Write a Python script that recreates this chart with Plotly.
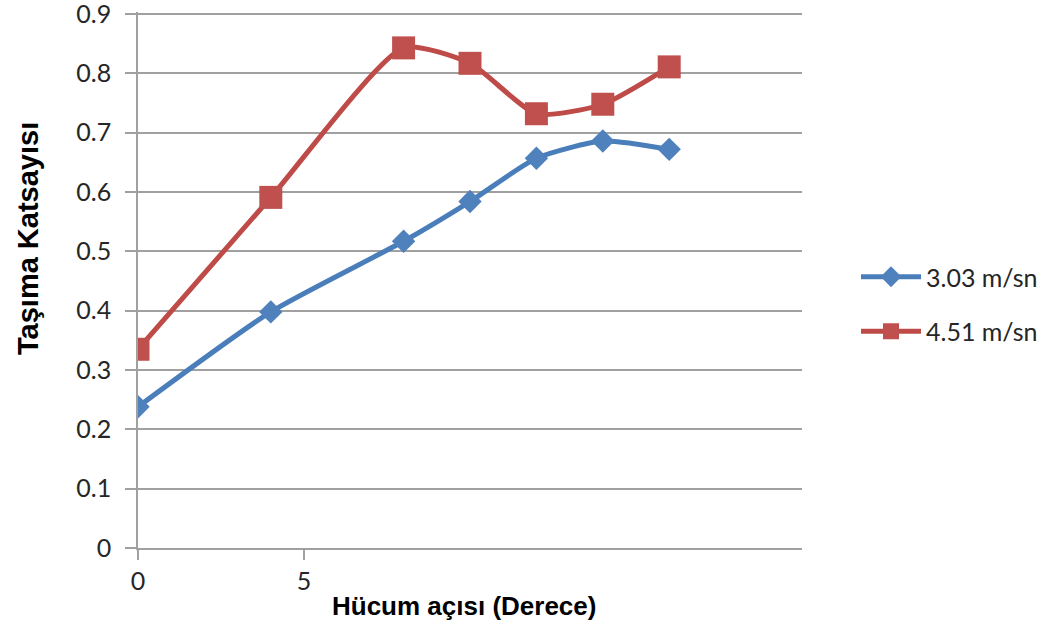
import plotly.graph_objects as go

# Angle of attack (degrees) and lift coefficient for two flow speeds
angles = [0, 4, 8, 10, 12, 14, 16]
cl_303 = [0.238, 0.398, 0.517, 0.584, 0.657, 0.686, 0.672]
cl_451 = [0.335, 0.591, 0.843, 0.817, 0.732, 0.748, 0.811]

series_names = ["3.03 m/sn", "4.51 m/sn"]
x_ticks = [0, 5, 10, 15, 20]
y_ticks = [0, 0.1, 0.2, 0.3, 0.4, 0.5, 0.6, 0.7, 0.8, 0.9]

BLUE_LINE, BLUE_MARK = "#4A7EBB", "#4F81BD"
RED_LINE, RED_MARK = "#BE4B48", "#C0504D"
GRID = "#A0A0A0"
TICK_FONT = dict(family="Lato, Open Sans, sans-serif", size=25, color="#262626")
X_TITLE_FONT = dict(family="Liberation Sans, Arial, sans-serif", size=26, color="#000000")
Y_TITLE_FONT = dict(family="Liberation Sans, Arial, sans-serif", size=29, color="#000000")

fig = go.Figure()
fig.add_trace(go.Scatter(
    x=angles, y=cl_303, name=series_names[0], mode="lines+markers",
    line=dict(color=BLUE_LINE, width=5, shape="spline", smoothing=0.6),
    marker=dict(symbol="diamond", size=18, color=BLUE_MARK),
    legendgroup="a",
))
fig.add_trace(go.Scatter(
    x=angles, y=cl_451, name=series_names[1], mode="lines+markers",
    line=dict(color=RED_LINE, width=5, shape="spline", smoothing=0.6),
    marker=dict(symbol="square", size=23, color=RED_MARK),
    legendgroup="b",
))

# a little headroom above 0.9 so its grid line is not trimmed at the edge
y_top = 0.9035

L, R, T, B = 138, 252, 12, 78
W, H = 1054, 626
plot_h = H - T - B
plot_w = W - L - R

def px_x(px):
    return (px - L) / plot_w

def px_y(py):
    return (H - B - py) / plot_h

# the axis title box sits over the labels to the right of 5
title_box_left = 307
visible_x_ticks = [v for v in x_ticks if L + v / 20 * plot_w < title_box_left]

fig.update_layout(
    width=W, height=H,
    margin=dict(l=L, r=R, t=T, b=B, autoexpand=False),
    paper_bgcolor="white", plot_bgcolor="white",
    showlegend=True,
    legend=dict(
        x=px_x(856), y=px_y(254), xanchor="left", yanchor="top",
        font=dict(family="Lato, Open Sans, sans-serif", size=25, color="#262626"),
        traceorder="grouped", tracegroupgap=19, itemwidth=60,
        bgcolor="rgba(0,0,0,0)",
    ),
    xaxis=dict(
        range=[0, 20], tickvals=visible_x_ticks, showgrid=False, zeroline=False,
        showline=True, linecolor=GRID, linewidth=1.5,
        ticks="outside", ticklen=10, tickcolor=GRID, tickwidth=1.5,
        tickfont=TICK_FONT, ticklabeloverflow="allow", automargin=False,
        fixedrange=True,
    ),
    yaxis=dict(
        range=[0, y_top], tickvals=y_ticks, showgrid=True, gridcolor=GRID, gridwidth=1.5,
        zeroline=False, showline=True, linecolor=GRID, linewidth=1.5,
        ticks="outside", ticklen=11, tickcolor=GRID, tickwidth=1.5,
        tickfont=TICK_FONT, ticklabelstandoff=9, ticklabeloverflow="allow",
        automargin=False, fixedrange=True,
    ),
    annotations=[
        dict(text="<b>Hücum açısı (Derece)</b>", xref="paper", yref="paper",
             x=px_x(464), y=px_y(606), xanchor="center", yanchor="middle",
             showarrow=False, font=X_TITLE_FONT),
        dict(text="<b>Taşıma Katsayısı</b>", xref="paper", yref="paper",
             x=px_x(28), y=px_y(239), xanchor="center", yanchor="middle",
             textangle=-90, showarrow=False, font=Y_TITLE_FONT),
    ],
)

fig.write_html("out.html")
